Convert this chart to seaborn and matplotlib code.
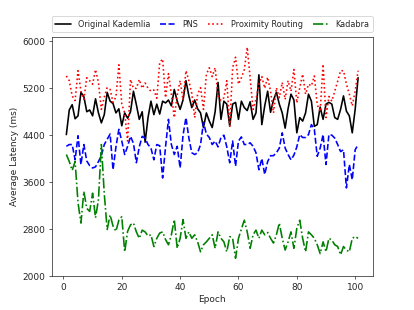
import numpy as np
import pandas as pd
import matplotlib
matplotlib.use("Agg")
import matplotlib.pyplot as plt
import seaborn as sns

# ---------------------- data ----------------------
epochs = list(range(1, 102))

kademlia = [4410, 4830, 4920, 4680, 4730, 5130, 5060, 4800, 4830, 4730,
            5020, 4780, 4610, 4750, 5130, 4980, 4940, 4780, 4850, 4560,
            4780, 4690, 4800, 5150, 4920, 4670, 4800, 4280, 4700, 4980,
            4750, 4930, 4760, 4980, 4950, 5000, 4900, 5180, 4980, 4840,
            5000, 5330, 5070, 4870, 5000, 4850, 4780, 4530, 4780, 4640,
            4530, 4800, 5300, 4670, 4980, 4930, 4560, 4930, 4960, 4670,
            4980, 4870, 4820, 4970, 4670, 4780, 5430, 4580, 4900, 5150,
            4790, 5000, 5130, 4930, 4780, 4520, 4850, 5100, 5000, 4440,
            4700, 4640, 4780, 5100, 4980, 4550, 4580, 4880, 4670, 4930,
            4960, 4930, 4700, 4670, 4840, 5070, 4810, 4730, 4440, 4840,
            5380]

pns = [4210, 4240, 4240, 3980, 4390, 3900, 4240, 3960, 3880, 3840,
       3860, 3950, 4050, 4240, 4330, 4420, 3810, 4200, 4500, 4300,
       4070, 4210, 4380, 4260, 3930, 4200, 4380, 4350, 4240, 4180,
       3980, 4240, 4220, 3670, 4200, 4670, 4240, 4070, 4210, 3840,
       4400, 4700, 4350, 4100, 4070, 4100, 4240, 4620, 4420, 4360,
       4240, 4300, 4200, 4360, 4400, 4200, 3930, 4300, 3870, 4300,
       4370, 4240, 4240, 4270, 4210, 4100, 3810, 4000, 3730, 3950,
       4050, 4050, 4100, 4180, 4440, 4180, 4070, 3980, 4060, 4200,
       4410, 4360, 4360, 4410, 4580, 4500, 4040, 4180, 4410, 3900,
       4410, 4400, 4350, 4240, 4120, 4150, 3500, 3900, 3640, 4150,
       4240]

proximity = [5410, 5330, 5070, 4990, 5500, 5150, 5010, 5380, 5330, 5270,
             5520, 5300, 4840, 5050, 5210, 5180, 4960, 5050, 5600, 4930,
             4780, 4300, 5350, 5200, 5200, 5350, 5200, 5290, 5200, 5150,
             5170, 5030, 5640, 5700, 5040, 5450, 5100, 4700, 5080, 5330,
             5000, 5500, 5330, 5110, 4700, 5100, 5210, 4840, 5440, 5550,
             5400, 5550, 5070, 4990, 5040, 5330, 4550, 5550, 5730, 5270,
             5380, 5520, 5900, 5380, 4840, 5010, 5270, 5400, 5200, 5390,
             5150, 4780, 5210, 5040, 5300, 5010, 5330, 5150, 5520, 4950,
             5210, 5440, 5100, 5270, 5240, 5410, 4920, 4800, 5610, 4700,
             5060, 4980, 5150, 5320, 5500, 5500, 5270, 5100, 4900, 5150,
             5500]

kadabra = [4070, 3950, 3800, 3950, 3250, 2900, 3440, 3150, 3100, 3410,
           2990, 3300, 4240, 3400, 2790, 3040, 2850, 2760, 2950, 3010,
           2410, 2760, 2870, 2900, 2750, 2640, 2780, 2750, 2680, 2700,
           2500, 2640, 2730, 2750, 2620, 2530, 2700, 2960, 2470, 2640,
           2960, 2640, 2750, 2640, 2700, 2580, 2410, 2530, 2580, 2640,
           2700, 2470, 2750, 2640, 2580, 2410, 2670, 2640, 2300, 2640,
           2800, 2950, 2750, 2470, 2700, 2780, 2640, 2780, 2700, 2740,
           2640, 2560, 2700, 2900, 2640, 2440, 2580, 2750, 2470, 2810,
           2950, 2640, 2410, 2750, 2700, 2640, 2530, 2380, 2580, 2410,
           2640, 2610, 2530, 2500, 2360, 2500, 2440, 2410, 2640, 2670,
           2640]

series_names = ["Original Kademlia", "PNS", "Proximity Routing", "Kadabra"]
series_values = [kademlia, pns, proximity, kadabra]
series_colors = ["black", "blue", "red", "green"]
series_styles = ["-", "--", ":", "-."]

y_ticks = [2000, 2800, 3600, 4400, 5200, 6000]

# ---------------------- plot ----------------------
sns.set_style("ticks")
plt.rcParams['font.family'] = ['DejaVu Sans']

fig, ax = plt.subplots(figsize=(6.4, 4.8), dpi=64.7)

for name, vals, col, ls in zip(series_names, series_values, series_colors, series_styles):
    df = pd.DataFrame({"Epoch": epochs, "Latency": vals})
    sns.lineplot(data=df, x="Epoch", y="Latency", ax=ax, color=col,
                 linestyle=ls, linewidth=1.8, label=name)

ax.set_xlim(-4, 106)
ax.set_ylim(2000, 6080)
ax.set_yticks(y_ticks)
ax.set_xticks([0, 20, 40, 60, 80, 100])
ax.set_xlabel("Epoch")
ax.set_ylabel("Average Latency (ms)")
for s in ax.spines.values():
    s.set_visible(True)

ax.legend(bbox_to_anchor=(0, 1.02, 1, 0.102), loc="lower left", ncol=4,
          mode="expand", borderaxespad=0, fontsize=9)

fig.savefig("out.png", dpi=64.7)
